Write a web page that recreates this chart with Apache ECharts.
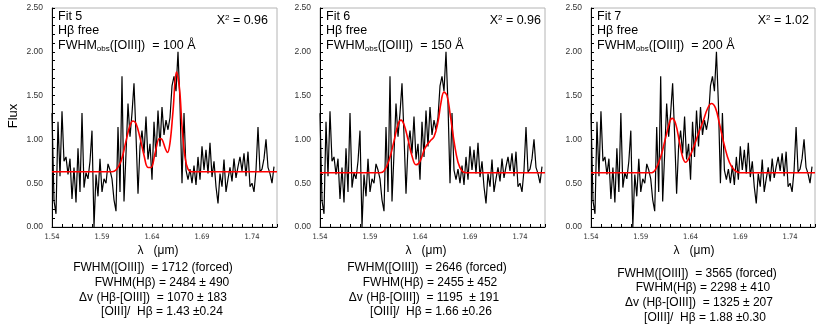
<!DOCTYPE html>
<html>
<head>
<meta charset="utf-8">
<script src="https://cdn.jsdelivr.net/npm/echarts@6/dist/echarts.min.js"></script>
<style>
html, body { margin: 0; padding: 0; background: #fff; }
#divFit { width: 830px; height: 332px; }
</style>
</head>
<body>
<div id="divFit"></div>
<script>
"use strict";

var ECFit = echarts.init(document.getElementById("divFit"));

// observed spectrum, sampled every 0.002 um from 1.540
var lamStart = 1.54, lamStep = 0.002;
var fluxObs = [
    1.30, 0.30, 0.15, 1.20, 0.58, 1.32, 0.75, 0.80, 0.60, 0.78,
    0.32, 0.68, 0.28, 0.90, 0.40, 1.30, 0.45, 0.62, 0.55, 0.75,
    1.10, 0.00, 0.60, 0.35, 0.78, 0.40, 0.55, 0.50, 0.72, 0.65,
    0.55, 0.31, 0.18, 1.14, 0.40, 1.72, 0.29, 0.84, 1.41, 1.03,
    1.30, 1.64, 1.05, 0.38, 0.92, 1.10, 0.84, 1.26, 0.77, 0.95,
    0.54, 1.20, 0.80, 1.33, 0.92, 1.37, 1.05, 1.22, 1.11, 1.25,
    1.61, 1.72, 1.55, 2.00, 1.40, 0.50, 1.30, 0.65, 0.54, 0.66,
    0.50, 0.70, 0.48, 0.80, 0.54, 0.92, 0.65, 0.88, 0.61, 0.96,
    0.57, 0.75, 0.46, 0.27, 0.61, 0.46, 0.77, 0.40, 0.55, 0.68,
    0.52, 0.78, 0.56, 0.69, 0.80, 0.64, 0.84, 0.58, 0.86, 0.46,
    0.50, 0.40, 0.65, 1.14, 0.63, 0.66, 0.78, 1.00, 0.68, 0.61,
    0.50, 0.69
];

// fitted models [lambda, flux]
var fit5 = [[1.540, 0.63], [1.600, 0.63], [1.604, 0.65], [1.609, 0.75], [1.614, 0.98], [1.618, 1.16],
    [1.621, 1.21], [1.624, 1.18], [1.628, 1.02], [1.632, 0.82], [1.636, 0.68], [1.639, 0.68],
    [1.643, 0.84], [1.6475, 1.01], [1.650, 1.00], [1.6535, 0.89], [1.6555, 0.85], [1.658, 0.96],
    [1.661, 1.32], [1.6645, 1.77], [1.6675, 1.58], [1.670, 1.15], [1.673, 0.80], [1.676, 0.66],
    [1.680, 0.63], [1.765, 0.63]];
var fit6 = [[1.540, 0.62], [1.600, 0.62], [1.604, 0.64], [1.609, 0.76], [1.614, 0.98], [1.618, 1.17],
    [1.621, 1.22], [1.624, 1.17], [1.628, 1.00], [1.632, 0.81], [1.636, 0.71], [1.640, 0.75],
    [1.645, 0.90], [1.650, 0.98], [1.654, 1.03], [1.658, 1.20], [1.661, 1.42], [1.664, 1.54],
    [1.667, 1.50], [1.670, 1.30], [1.674, 0.98], [1.678, 0.74], [1.682, 0.64], [1.686, 0.62],
    [1.765, 0.62]];
var fit7 = [[1.540, 0.62], [1.601, 0.62], [1.605, 0.66], [1.610, 0.80], [1.615, 1.02], [1.619, 1.20],
    [1.6215, 1.24], [1.625, 1.18], [1.629, 0.96], [1.632, 0.80], [1.635, 0.74], [1.639, 0.80],
    [1.644, 0.94], [1.648, 1.07], [1.653, 1.22], [1.657, 1.35], [1.661, 1.41], [1.665, 1.36],
    [1.669, 1.18], [1.674, 0.93], [1.679, 0.74], [1.684, 0.65], [1.690, 0.62], [1.765, 0.62]];

var fitNames = ["Fit 5", "Fit 6", "Fit 7"];
var fwhmObs = ["100", "150", "200"];
var chiSq = ["0.96", "0.96", "1.02"];
var resLines = [
    ["FWHM([OIII])  = 1712 (forced)", "FWHM(H\u03b2) = 2484 \u00b1 490", "\u0394v (H\u03b2-[OIII])  = 1070 \u00b1 183", "[OIII]/  H\u03b2 = 1.43 \u00b10.24"],
    ["FWHM([OIII])  = 2646 (forced)", "FWHM(H\u03b2) = 2455 \u00b1 452", "\u0394v (H\u03b2-[OIII])  = 1195  \u00b1 191", "[OIII]/  H\u03b2 = 1.66 \u00b10.26"],
    ["FWHM([OIII])  = 3565 (forced)", "FWHM(H\u03b2) = 2298 \u00b1 410", "\u0394v (H\u03b2-[OIII])  = 1325 \u00b1 207", "[OIII]/  H\u03b2 = 1.88 \u00b10.30"]
];

var panelLeft = [52, 320, 591];
var panelWidth = [225, 225, 224];
var chiRight = [268, 541, 809];
var resX = [[153, 162, 153, 162], [427, 430, 424, 431], [697, 703, 699, 705]];
var resY = [[268, 283, 297.5, 312], [268, 283, 297.5, 312], [274, 288, 302.5, 318]];
var lamX = [158, 426, 694];

var txtFont = "Liberation Sans, Arial, sans-serif";
var obsData = fluxObs.map(function(v, i) { return [+(lamStart + i * lamStep).toFixed(3), v]; });
var fits = [fit5, fit6, fit7];

var option = { animation: false, grid: [], xAxis: [], yAxis: [], series: [], graphic: [] };

for (var k = 0; k < 3; k++) {
    option.grid.push({ left: panelLeft[k], top: 8, width: panelWidth[k], height: 219, show: true, borderColor: "#b4b4b4", borderWidth: 1 });
    option.xAxis.push({
        type: "value", gridIndex: k, min: 1.54, max: 1.765, interval: 0.01,
        axisLine: { lineStyle: { color: "#000", width: 1 } },
        axisTick: { inside: true, length: 3, lineStyle: { color: "#000" } },
        splitLine: { show: false },
        axisLabel: {
            margin: 6, fontSize: 7.5, color: "#333", fontFamily: "Liberation Sans Narrow, DejaVu Sans Condensed, sans-serif",
            formatter: function(v) { var n = Math.round(v * 100); return n % 5 === 4 && n < 176 ? (n / 100).toFixed(2) : ""; }
        }
    });
    option.yAxis.push({
        type: "value", gridIndex: k, min: 0, max: 2.5, interval: 0.1,
        axisLine: { show: true, lineStyle: { color: "#000", width: 1 } },
        axisTick: { inside: true, length: 3, lineStyle: { color: "#000" } },
        splitLine: { show: false },
        axisLabel: {
            margin: 9, fontSize: 8.5, color: "#333", fontFamily: txtFont,
            formatter: function(v) { var n = Math.round(v * 10); return n % 5 === 0 ? (n / 10).toFixed(2) : ""; }
        }
    });
    option.series.push({
        type: "line", xAxisIndex: k, yAxisIndex: k, data: obsData, showSymbol: false, z: 2,
        lineStyle: { color: "#000", width: 1.2 }
    });
    option.series.push({
        type: "line", xAxisIndex: k, yAxisIndex: k, data: fits[k], showSymbol: false, smooth: 0.4, z: 3,
        lineStyle: { color: "#f00", width: 1.6 }
    });

    var L = panelLeft[k];
    option.graphic.push({ type: "text", x: L + 6, y: 16.5, style: { text: fitNames[k], font: "12.5px " + txtFont, fill: "#000", verticalAlign: "middle" } });
    option.graphic.push({ type: "text", x: L + 6, y: 31, style: { text: "H\u03b2 free", font: "12.5px " + txtFont, fill: "#000", verticalAlign: "middle" } });
    option.graphic.push({
        type: "text", x: L + 6, y: 45.5,
        style: {
            text: "FWHM{sub|obs}([OIII])  = " + fwhmObs[k] + " \u00c5", font: "12.5px " + txtFont, fill: "#000", verticalAlign: "middle", lineHeight: 15,
            rich: { sub: { fontSize: 8, lineHeight: 8, verticalAlign: "bottom", fontFamily: txtFont, fill: "#000" } }
        }
    });
    option.graphic.push({
        type: "text", x: chiRight[k], y: 21,
        style: {
            text: "X{sup|2} = " + chiSq[k], font: "12.5px " + txtFont, fill: "#000", align: "right", verticalAlign: "middle", lineHeight: 15,
            rich: { sup: { fontSize: 8, lineHeight: 8, verticalAlign: "top", fontFamily: txtFont, fill: "#000" } }
        }
    });
    option.graphic.push({ type: "text", x: lamX[k], y: 251, style: { text: "\u03bb   (\u03bcm)", font: "12px " + txtFont, fill: "#000", align: "center", verticalAlign: "middle" } });
    for (var j = 0; j < 4; j++) {
        option.graphic.push({ type: "text", x: resX[k][j], y: resY[k][j], style: { text: resLines[k][j], font: "12px " + txtFont, fill: "#000", align: "center", verticalAlign: "middle" } });
    }
}

option.graphic.push({ type: "text", x: 13, y: 116, rotation: Math.PI / 2, style: { text: "Flux", font: "13px " + txtFont, fill: "#000", align: "center", verticalAlign: "middle" } });

ECFit.setOption(option);
</script>
</body>
</html>
